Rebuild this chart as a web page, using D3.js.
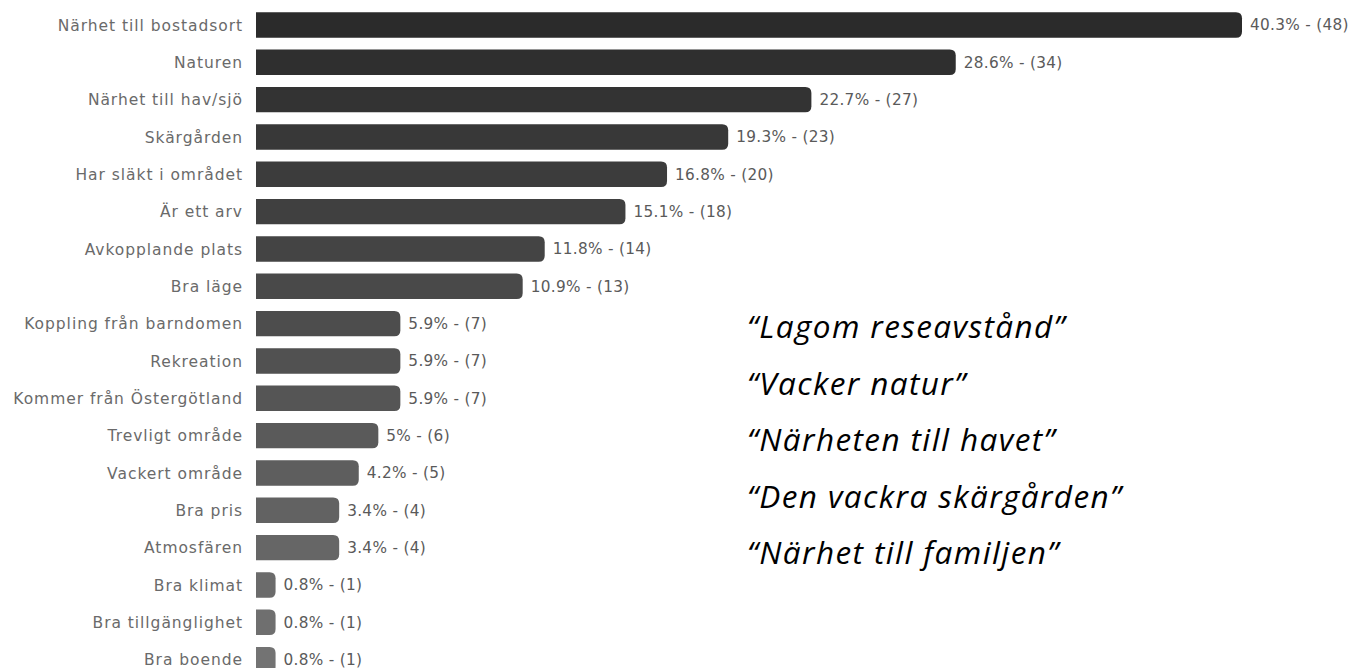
<!DOCTYPE html>
<html>
<head>
<meta charset="utf-8">
<script src="https://cdn.jsdelivr.net/npm/d3@7"></script>
<style>
  html, body { margin: 0; padding: 0; background: #fff; }
  svg { display: block; }
</style>
</head>
<body>
<svg id="chart" width="1358" height="668"></svg>
<script>
const categories = [
  "Närhet till bostadsort", "Naturen", "Närhet till hav/sjö", "Skärgården",
  "Har släkt i området", "Är ett arv", "Avkopplande plats", "Bra läge",
  "Koppling från barndomen", "Rekreation", "Kommer från Östergötland",
  "Trevligt område", "Vackert område", "Bra pris", "Atmosfären",
  "Bra klimat", "Bra tillgänglighet", "Bra boende"
];
const percents = [40.3, 28.6, 22.7, 19.3, 16.8, 15.1, 11.8, 10.9, 5.9, 5.9, 5.9, 5, 4.2, 3.4, 3.4, 0.8, 0.8, 0.8];
const counts = [48, 34, 27, 23, 20, 18, 14, 13, 7, 7, 7, 6, 5, 4, 4, 1, 1, 1];
const quotes = [
  "“Lagom reseavstånd”",
  "“Vacker natur”",
  "“Närheten till havet”",
  "“Den vackra skärgården”",
  "“Närhet till familjen”"
];

const data = categories.map((c, i) => ({ cat: c, pct: percents[i], n: counts[i], i }));
const svg = d3.select("#chart");

const x = d3.scaleLinear().domain([0, 40.3]).range([256, 1242]);
const y = d3.scaleBand().domain(categories).range([6.3, 678.3]).paddingInner(0.32).paddingOuter(0.16);
const color = d3.scaleLinear().domain([0, categories.length - 1]).range(["#2b2b2b", "#737373"]);

function barPath(x0, x1, y0, h, r) {
  const w = x1 - x0;
  r = Math.min(r, w, h / 2);
  return `M${x0},${y0}H${x1 - r}Q${x1},${y0} ${x1},${y0 + r}V${y0 + h - r}Q${x1},${y0 + h} ${x1 - r},${y0 + h}H${x0}Z`;
}

svg.append("g").selectAll("path").data(data).join("path")
  .attr("d", d => barPath(x(0), x(d.pct), y(d.cat), y.bandwidth(), 6))
  .attr("fill", d => color(d.i));

svg.append("g").selectAll("text").data(data).join("text")
  .attr("x", x(0) - 13)
  .attr("y", d => y(d.cat) + y.bandwidth() / 2)
  .attr("dy", "0.36em")
  .attr("text-anchor", "end")
  .attr("font-family", "'DejaVu Sans', sans-serif")
  .attr("font-size", 15.5)
  .attr("letter-spacing", 0.95)
  .attr("fill", "#6a6a6a")
  .text(d => d.cat);

svg.append("g").selectAll("text").data(data).join("text")
  .attr("x", d => x(d.pct) + 8)
  .attr("y", d => y(d.cat) + y.bandwidth() / 2)
  .attr("dy", "0.36em")
  .attr("font-family", "'DejaVu Sans', sans-serif")
  .attr("font-size", 15.3)
  .attr("letter-spacing", 0.3)
  .attr("fill", "#5a5a5a")
  .text(d => `${d.pct}% - (${d.n})`);

const qy = d3.scalePoint().domain(d3.range(quotes.length)).range([338, 564]);
svg.append("g").selectAll("text").data(quotes).join("text")
  .attr("x", 747)
  .attr("y", (d, i) => qy(i))
  .attr("font-family", "'Open Sans', sans-serif")
  .attr("font-style", "italic")
  .attr("font-size", 31.5)
  .attr("letter-spacing", 1.4)
  .attr("fill", "#000")
  .text(d => d);
</script>
</body>
</html>
